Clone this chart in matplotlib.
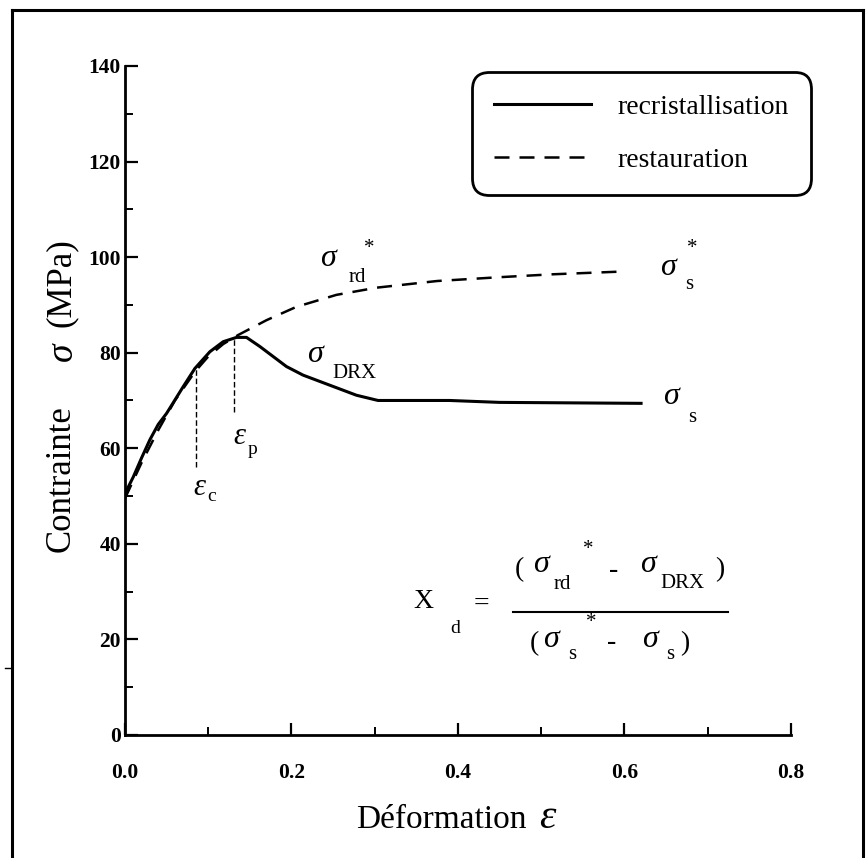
import numpy as np
import matplotlib.pyplot as plt
from matplotlib.lines import Line2D

plt.rcParams['font.family'] = ['Liberation Serif', 'DejaVu Serif']

# courbe avec recristallisation dynamique
strain_drx = [0.0, 0.01, 0.02, 0.03, 0.04, 0.05, 0.07, 0.084, 0.102, 0.118, 0.134, 0.146,
              0.162, 0.178, 0.194, 0.214, 0.246, 0.278, 0.304, 0.39, 0.45, 0.62]
stress_drx = [50.5, 54.0, 58.0, 61.8, 65.0, 67.3, 72.9, 76.7, 80.2, 82.3, 83.2, 83.2,
              81.3, 79.2, 77.1, 75.3, 73.2, 71.1, 70.0, 70.0, 69.6, 69.4]

# courbe de restauration seule
strain_rd = [0.0, 0.02, 0.04, 0.06, 0.084, 0.10, 0.118, 0.136, 0.170, 0.206, 0.254,
             0.302, 0.375, 0.45, 0.513, 0.60]
stress_rd = [49.5, 57.0, 63.8, 70.0, 76.0, 79.2, 81.8, 83.7, 86.8, 89.6, 92.1,
             93.6, 95.0, 95.8, 96.4, 97.0]

# deformations critique et de pic
eps_marks = [0.085, 0.131]
eps_top = [76.8, 83.3]
eps_bottom = [56.1, 67.6]

xticks = [0.0, 0.2, 0.4, 0.6, 0.8]
yticks = [0, 20, 40, 60, 80, 100, 120, 140]

fig = plt.figure(figsize=(8.66, 8.58), dpi=100)
ax = fig.add_axes([0.1443, 0.1434, 0.769, 0.7797])

ax.plot(strain_drx, stress_drx, color='black', lw=2.2, label='recristallisation')
ax.plot(strain_rd, stress_rd, color='black', lw=1.8, dashes=(6, 4),
        label='restauration')
ax.vlines(eps_marks, eps_bottom, eps_top, colors='black', lw=1.0,
          linestyles=(0, (4, 2)))

ax.set_xlim(0, 0.8)
ax.set_ylim(0, 140)
ax.set_xticks(xticks)
ax.set_xticklabels(['%.1f' % v for v in xticks])
ax.set_yticks(yticks)
ax.set_xticks(np.arange(0.1, 0.8, 0.2), minor=True)
ax.set_yticks(np.arange(10, 140, 20), minor=True)
for s in ['top', 'right']:
    ax.spines[s].set_visible(False)
for s in ['left', 'bottom']:
    ax.spines[s].set_linewidth(2.0)
ax.tick_params(which='major', direction='in', length=9, width=1.6)
ax.tick_params(which='minor', direction='in', length=6, width=1.4)
ax.tick_params(axis='x', which='major', pad=20)
ax.tick_params(axis='y', which='major', pad=3)
for lab in ax.get_xticklabels() + ax.get_yticklabels():
    lab.set_fontweight('bold')
    lab.set_fontsize(15.5)

# titres des axes
ax.text(-0.096, 0.493, 'Contrainte', rotation=90, fontsize=25, transform=ax.transAxes,
        ha='center', va='top')
ax.text(-0.094, 0.573, 'σ', rotation=90, fontsize=27, style='italic',
        transform=ax.transAxes, ha='center', va='center')
ax.text(-0.096, 0.61, '(MPa)', rotation=90, fontsize=25, transform=ax.transAxes,
        ha='center', va='bottom')
ax.text(0.347, -0.127, 'Déformation', fontsize=24, transform=ax.transAxes,
        ha='left', va='center')
ax.text(0.622, -0.124, 'ε', fontsize=30, style='italic', transform=ax.transAxes,
        ha='left', va='center')

leg = ax.legend(loc='upper left', bbox_to_anchor=(0.521, 0.991), fontsize=20,
                fancybox=True, framealpha=1, edgecolor='black', handlelength=3.5,
                handletextpad=0.95, labelspacing=1.0, borderpad=0.8, borderaxespad=0)
leg.get_frame().set_linewidth(2.0)
leg.get_frame().set_boxstyle('round,pad=0,rounding_size=0.6')

PX = 0.72  # points par pixel


# etiquettes : symbole, indice et etoile, decalages en pixels
def sym(x, y, main, sub=None, dsub=(0, 0), star=None, big=23, small=15):
    ax.text(x, y, main, fontsize=big, style='italic', ha='center', va='center')
    if sub:
        ax.annotate(sub, (x, y), xytext=(dsub[0] * PX, -dsub[1] * PX),
                    textcoords='offset points', fontsize=small, ha='center', va='center')
    if star:
        ax.annotate('*', (x, y), xytext=(star[0] * PX, -star[1] * PX),
                    textcoords='offset points', fontsize=small, ha='center', va='center')


sym(0.244, 99.8, 'σ', 'rd', (29, 19), star=(41, -10))
sym(0.652, 97.9, 'σ', 's', (21, 17), star=(25, -19))
sym(0.228, 79.7, 'σ', 'DRX', (40, 19))
sym(0.656, 70.9, 'σ', 's', (21, 21))
sym(0.089, 51.7, 'ε', 'c', (13, 9), big=22, small=14)
sym(0.138, 62.4, 'ε', 'p', (13, 13), big=22, small=14)

# formule
ax.text(0.358, 28.0, 'X', fontsize=20, ha='center', va='center')
ax.annotate('d', (0.358, 28.0), xytext=(32 * PX, -27 * PX), textcoords='offset points',
            fontsize=14, ha='center', va='center')
ax.text(0.428, 27.4, '=', fontsize=20, ha='center', va='center')
ax.text(0.474, 34.6, '(', fontsize=20, ha='center', va='center')
sym(0.500, 35.6, 'σ', 'rd', (21, 20), star=(47, -15))
ax.text(0.587, 34.5, '-', fontsize=20, ha='center', va='center')
sym(0.628, 35.6, 'σ', 'DRX', (35, 19))
ax.text(0.714, 34.6, ')', fontsize=20, ha='center', va='center')
ax.add_line(Line2D([0.466, 0.724], [25.7, 25.7], color='black', lw=1.5))
ax.text(0.492, 19.2, '(', fontsize=20, ha='center', va='center')
sym(0.512, 19.9, 'σ', 's', (21, 15), star=(40, -17))
ax.text(0.585, 19.4, '-', fontsize=20, ha='center', va='center')
sym(0.631, 19.9, 'σ', 's', (20, 15))
ax.text(0.673, 19.2, ')', fontsize=20, ha='center', va='center')

# cadre de la figure
fig.add_artist(Line2D([0.0139, 0.0139], [0.0, 0.988], color='black', lw=2.2))
fig.add_artist(Line2D([0.0139, 0.997], [0.988, 0.988], color='black', lw=2.2))
fig.add_artist(Line2D([0.997, 0.997], [0.0, 0.988], color='black', lw=2.2))
fig.add_artist(Line2D([0.006, 0.0139], [0.221, 0.221], color='black', lw=1.0))

fig.savefig('out.png', dpi=100)
